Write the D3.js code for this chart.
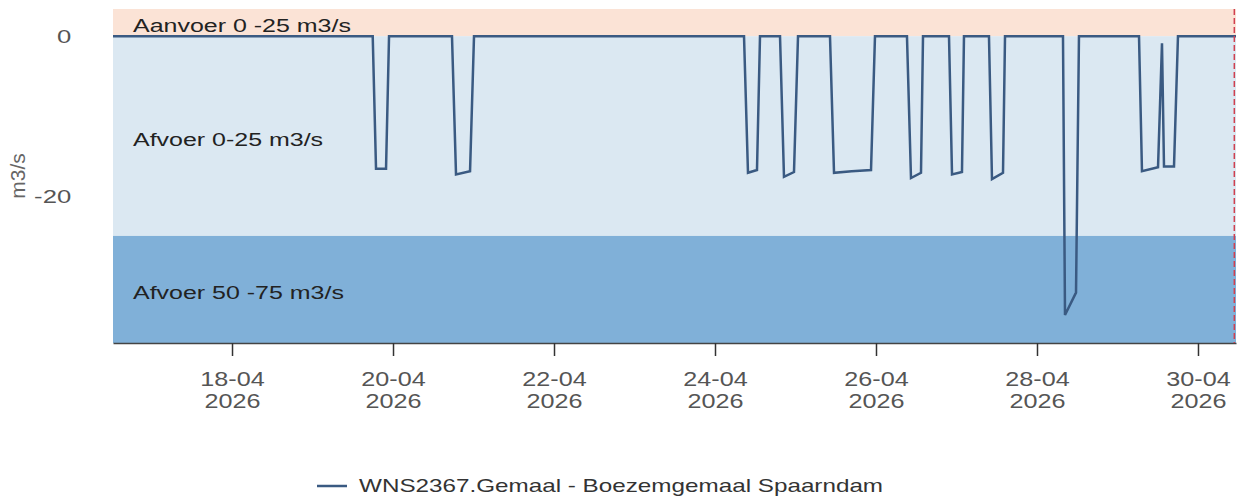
<!DOCTYPE html>
<html>
<head>
<meta charset="utf-8">
<script src="https://cdn.jsdelivr.net/npm/d3@7"></script>
<style>
  body { margin: 0; background: #fff; }
  text { font-family: "Liberation Sans", Arial, sans-serif; }
</style>
</head>
<body>
<div id="chart"></div>
<script>
// pump discharge, m3/s (negative = afvoer)
const flowTimes = [
  "2026-04-16T12:31", "2026-04-19T17:57", "2026-04-19T18:56", "2026-04-19T21:55", "2026-04-19T22:49",
  "2026-04-20T17:35", "2026-04-20T18:47", "2026-04-20T22:58", "2026-04-21T00:09",
  "2026-04-24T08:39", "2026-04-24T09:50", "2026-04-24T12:31", "2026-04-24T13:25",
  "2026-04-24T19:23", "2026-04-24T20:34", "2026-04-24T23:33", "2026-04-25T00:45",
  "2026-04-25T10:17", "2026-04-25T11:29", "2026-04-25T16:45", "2026-04-25T22:31", "2026-04-25T23:42",
  "2026-04-26T09:14", "2026-04-26T10:26", "2026-04-26T13:25", "2026-04-26T14:01",
  "2026-04-26T21:46", "2026-04-26T22:40", "2026-04-27T01:38", "2026-04-27T02:14",
  "2026-04-27T09:41", "2026-04-27T10:35", "2026-04-27T13:52", "2026-04-27T14:28",
  "2026-04-28T07:45", "2026-04-28T08:21", "2026-04-28T11:38", "2026-04-28T12:31",
  "2026-04-29T06:25", "2026-04-29T07:18", "2026-04-29T12:05", "2026-04-29T13:16",
  "2026-04-29T13:52", "2026-04-29T16:51", "2026-04-29T18:02", "2026-04-30T11:20"
];
const flowValues = [
  0, 0, -16.6, -16.6, 0,
  0, -17.3, -16.9, 0,
  0, -17.1, -16.75, 0,
  0, -17.6, -17.0, 0,
  0, -17.1, -16.9, -16.75, 0,
  0, -17.75, -17.1, 0,
  0, -17.3, -17.0, 0,
  0, -17.9, -17.1, 0,
  0, -34.9, -32.1, 0,
  0, -16.9, -16.4, -0.9,
  -16.3, -16.3, 0, 0
];

const seriesName = "WNS2367.Gemaal - Boezemgemaal Spaarndam";

// background bands
const bandLabels = ["Aanvoer 0 -25 m3/s", "Afvoer 0-25 m3/s", "Afvoer 50 -75 m3/s"];
const bandFrom = [0, 0, -25];
const bandTo = [25, -25, -50];
const bandColors = ["#fbe3d6", "#dbe8f2", "#80b0d8"];

const xTickDates = ["2026-04-18", "2026-04-20", "2026-04-22", "2026-04-24", "2026-04-26", "2026-04-28", "2026-04-30"];
const yTickValues = [0, -20];
const xDomain = ["2026-04-16T12:31", "2026-04-30T11:20"];
const yDomain = [-38.4, 3.4];
const nowTime = "2026-04-30T10:50";

const W = 1238, H = 499;
const margin = { top: 9, right: 2, bottom: 156, left: 113 };
const width = W - margin.left - margin.right;
const height = H - margin.top - margin.bottom;

const parseT = d3.timeParse("%Y-%m-%dT%H:%M");
const parseD = d3.timeParse("%Y-%m-%d");
const data = flowTimes.map((t, i) => ({ date: parseT(t), value: flowValues[i] }));

const X = d3.scaleTime().domain(xDomain.map(parseT)).range([0, width]);
const Y = d3.scaleLinear().domain(yDomain).range([height, 0]);

const lineColor = "#3a5a82";
const stretch = 1.35; // text in the original is drawn wide

const svg = d3.select("#chart").append("svg")
  .attr("width", W).attr("height", H);

svg.append("defs").append("clipPath").attr("id", "plot-clip")
  .append("rect").attr("width", width).attr("height", height);

const g = svg.append("g").attr("transform", `translate(${margin.left},${margin.top})`);

// bands
const bands = g.append("g").attr("clip-path", "url(#plot-clip)");
bandLabels.forEach((label, i) => {
  const y0 = Math.max(0, Math.min(Y(bandFrom[i]), Y(bandTo[i])));
  const y1 = Math.min(height, Math.max(Y(bandFrom[i]), Y(bandTo[i])));
  bands.append("rect")
    .attr("x", 0).attr("y", y0)
    .attr("width", width).attr("height", y1 - y0)
    .attr("fill", bandColors[i]);
});
bandLabels.forEach((label, i) => {
  const y0 = Math.max(0, Math.min(Y(bandFrom[i]), Y(bandTo[i])));
  const y1 = Math.min(height, Math.max(Y(bandFrom[i]), Y(bandTo[i])));
  g.append("text")
    .attr("transform", `translate(20,${(y0 + y1) / 2 + 3}) scale(${stretch},1)`)
    .attr("dy", "0.35em")
    .attr("fill", "#222")
    .style("font-size", "18.5px")
    .text(label);
});

// y axis labels only
const yAxis = g.append("g")
  .call(d3.axisLeft(Y).tickValues(yTickValues).tickFormat((d) => String(d)).tickSize(0).tickPadding(31));
yAxis.select(".domain").remove();
yAxis.selectAll(".tick text")
  .attr("fill", "#555")
  .style("font-size", "19px")
  .style("font-family", "Liberation Sans, Arial, sans-serif")
  .attr("transform", `translate(${-31 * (stretch - 1)},0) scale(${stretch},1)`)
  .attr("x", -31 / stretch);

svg.append("text")
  .attr("transform", `translate(25,${margin.top + Y(-17.5)}) rotate(-90)`)
  .attr("text-anchor", "middle")
  .attr("fill", "#666")
  .style("font-size", "21px")
  .text("m3/s");

// x axis
const fmtDay = d3.timeFormat("%d-%m");
const fmtYear = d3.timeFormat("%Y");
const xAxis = g.append("g")
  .attr("transform", `translate(0,${height})`)
  .call(d3.axisBottom(X).tickValues(xTickDates.map(parseD)).tickSize(13).tickSizeOuter(0));
xAxis.select(".domain").attr("stroke", "#444").attr("stroke-width", 1.5);
xAxis.selectAll(".tick line").attr("stroke", "#333").attr("stroke-width", 1.5);
xAxis.selectAll(".tick text").each(function (d) {
  const t = d3.select(this);
  t.text(null).attr("dy", null).attr("y", null)
    .attr("fill", "#555")
    .style("font-size", "20px")
    .style("font-family", "Liberation Sans, Arial, sans-serif")
    .attr("transform", "scale(1.26,1)");
  t.append("tspan").attr("x", 0).attr("y", 43).text(fmtDay(d));
  t.append("tspan").attr("x", 0).attr("y", 65).text(fmtYear(d));
});

// series line
g.append("path")
  .datum(data)
  .attr("clip-path", "url(#plot-clip)")
  .attr("fill", "none")
  .attr("stroke", lineColor)
  .attr("stroke-width", 2.5)
  .attr("d", d3.line().x((d) => X(d.date)).y((d) => Y(d.value)));

// "now" marker
const nowX = X(parseT(nowTime));
g.append("line")
  .attr("x1", nowX).attr("x2", nowX)
  .attr("y1", 0).attr("y2", height)
  .attr("stroke", "#d0404f")
  .attr("stroke-width", 1.5)
  .attr("stroke-dasharray", "6,3");

// legend
const legend = svg.append("g").attr("transform", "translate(317,486)");
legend.append("line")
  .attr("x1", 0).attr("x2", 30)
  .attr("stroke", lineColor).attr("stroke-width", 2.5);
legend.append("text")
  .attr("transform", `translate(42,6) scale(1.37,1)`)
  .attr("fill", "#333")
  .style("font-size", "17.7px")
  .text(seriesName);
</script>
</body>
</html>
